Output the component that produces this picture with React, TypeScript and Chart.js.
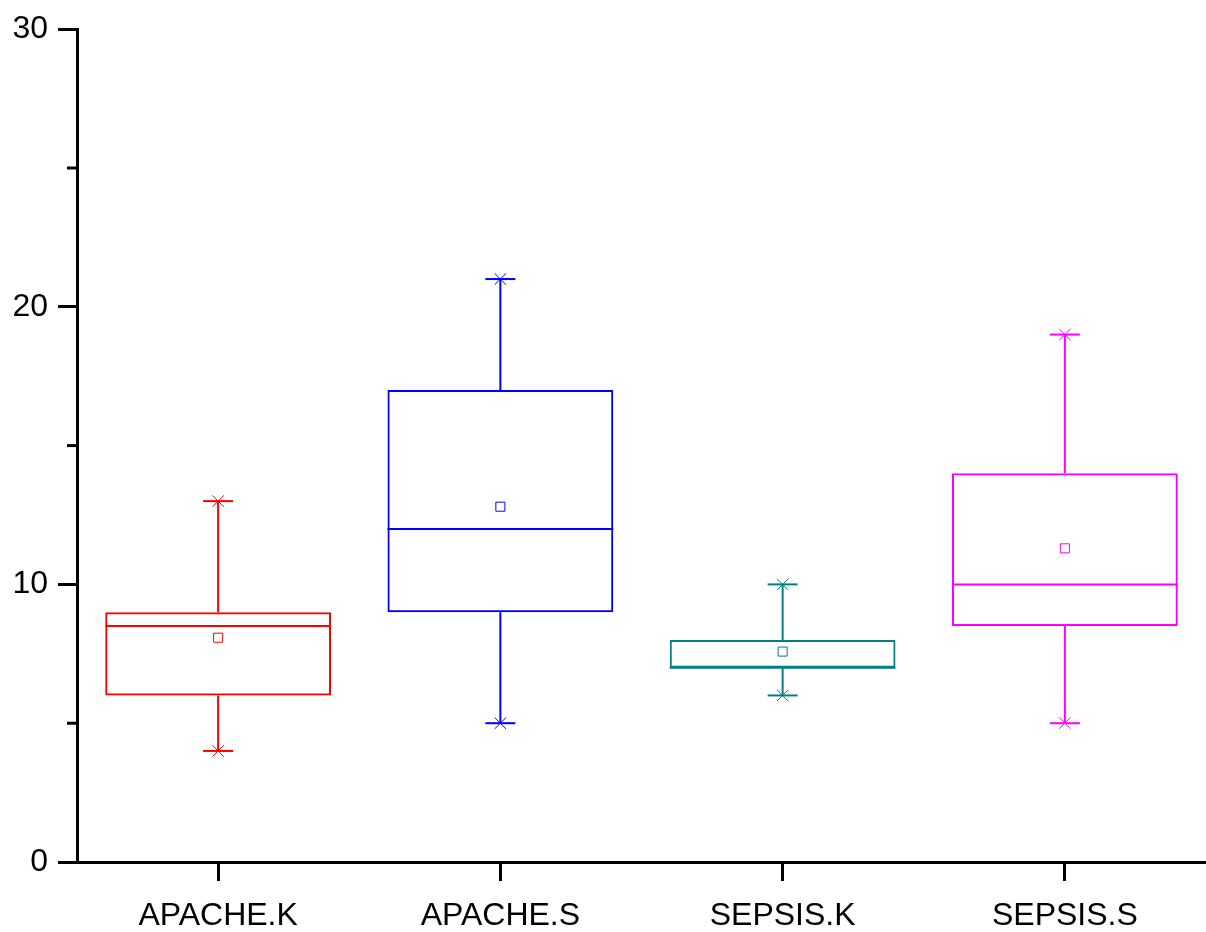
import React, { useEffect, useRef } from "react";
import { Chart, registerables } from "chart.js";

Chart.register(...registerables);

const categories = ["APACHE.K", "APACHE.S", "SEPSIS.K", "SEPSIS.S"];
const colors = ["#FF0000", "#0000FF", "#008080", "#FF00FF"];
const minValues = [4, 5, 6, 5];
const q1Values = [6, 9, 7, 8.5];
const medianValues = [8.5, 12, 7, 10];
const q3Values = [9, 17, 8, 14];
const maxValues = [13, 21, 10, 19];
const meanValues = [8.08, 12.8, 7.58, 11.3];
const yTickLabels = [0, 10, 20, 30];
const yMinorTicks = [5, 15, 25];

const FONT = "'Liberation Sans', Arial, sans-serif";

// Whiskers, medians and minor y ticks drawn through the chart's own scales
const boxExtras = {
  id: "boxExtras",
  afterDatasetsDraw(chart: any) {
    const { ctx, scales } = chart;
    const x = scales.x;
    const y = scales.y;
    const half = (x.getPixelForValue(1) - x.getPixelForValue(0)) * 0.4;
    ctx.save();
    ctx.lineWidth = 2;
    categories.forEach((_, i) => {
      const cx = x.getPixelForValue(i);
      ctx.strokeStyle = colors[i];
      ctx.beginPath();
      ctx.moveTo(cx, y.getPixelForValue(q3Values[i]));
      ctx.lineTo(cx, y.getPixelForValue(maxValues[i]));
      ctx.moveTo(cx, y.getPixelForValue(q1Values[i]));
      ctx.lineTo(cx, y.getPixelForValue(minValues[i]));
      const my = y.getPixelForValue(medianValues[i]);
      ctx.moveTo(cx - half, my);
      ctx.lineTo(cx + half, my);
      ctx.stroke();
    });
    ctx.restore();
  },
  afterDraw(chart: any) {
    const { ctx, scales, chartArea } = chart;
    const y = scales.y;
    ctx.save();
    ctx.strokeStyle = "#000";
    ctx.lineWidth = 3;
    yMinorTicks.forEach((v) => {
      const py = y.getPixelForValue(v);
      ctx.beginPath();
      ctx.moveTo(chartArea.left - 10, py);
      ctx.lineTo(chartArea.left, py);
      ctx.stroke();
    });
    ctx.restore();
  },
};

export default function App() {
  const canvasRef = useRef<HTMLCanvasElement | null>(null);

  useEffect(() => {
    if (!canvasRef.current) return;
    document.body.style.margin = "0";
    document.body.style.overflow = "hidden";
    const capDataset = (values: number[], style: string, radius: number, width: number) => ({
      type: "line" as const,
      data: values,
      showLine: false,
      pointStyle: style,
      pointRadius: radius,
      pointHoverRadius: radius,
      pointBorderColor: colors,
      pointBackgroundColor: colors,
      pointBorderWidth: width,
      clip: false,
    });
    const chart = new Chart(canvasRef.current, {
      type: "bar",
      data: {
        labels: categories,
        datasets: [
          {
            type: "bar",
            data: q1Values.map((q, i) => [q, q3Values[i]]) as any,
            backgroundColor: "rgba(0,0,0,0)",
            borderColor: colors,
            borderWidth: 2,
            borderSkipped: false,
            categoryPercentage: 0.8,
            barPercentage: 1,
          },
          capDataset(maxValues, "line", 15, 2),
          capDataset(maxValues, "crossRot", 8, 1),
          capDataset(minValues, "line", 15, 2),
          capDataset(minValues, "crossRot", 8, 1),
          {
            type: "line",
            data: meanValues,
            showLine: false,
            pointStyle: "rect",
            pointRadius: 6.4,
            pointHoverRadius: 6.4,
            pointBorderColor: colors,
            pointBackgroundColor: "#fff",
            pointBorderWidth: 1,
          },
        ] as any,
      },
      options: {
        animation: false,
        responsive: true,
        maintainAspectRatio: false,
        events: [],
        layout: { autoPadding: false, padding: { top: 27, right: 0, left: 0, bottom: 0 } },
        plugins: { legend: { display: false }, tooltip: { enabled: false } },
        scales: {
          x: {
            type: "category",
            offset: true,
            afterFit: (s: any) => {
              s.height = 70;
            },
            border: { display: true, color: "#000", width: 3 },
            grid: {
              offset: false,
              drawOnChartArea: false,
              drawTicks: true,
              tickLength: 19,
              tickColor: "#000",
              tickWidth: 3,
            },
            ticks: {
              color: "#000",
              padding: 16,
              font: { family: FONT, size: 32 },
              maxRotation: 0,
            },
          },
          y: {
            type: "linear",
            min: 0,
            max: 30,
            afterFit: (s: any) => {
              s.width = 77;
            },
            afterBuildTicks: (s: any) => {
              s.ticks = yTickLabels.map((v) => ({ value: v }));
            },
            border: { display: true, color: "#000", width: 3 },
            grid: {
              drawOnChartArea: false,
              drawTicks: true,
              tickLength: 19,
              tickColor: "#000",
              tickWidth: 3,
            },
            ticks: {
              color: "#000",
              padding: 10,
              font: { family: FONT, size: 32 },
            },
          },
        },
      },
      plugins: [boxExtras],
    });
    return () => chart.destroy();
  }, []);

  return (
    <div style={{ position: "absolute", left: 0, top: 0, width: 1206, height: 932, background: "#fff", overflow: "hidden" }}>
      <canvas ref={canvasRef} style={{ display: "block" }} />
    </div>
  );
}
